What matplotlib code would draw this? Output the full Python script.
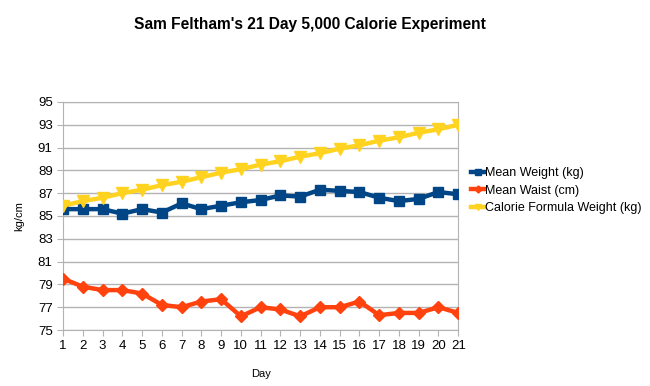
import matplotlib
matplotlib.use("Agg")
import matplotlib.pyplot as plt

# -----------------------------
# Data
# -----------------------------
days = list(range(1, 22))
mean_weight = [85.6, 85.6, 85.6, 85.2, 85.6, 85.3, 86.1, 85.6, 85.9, 86.2, 86.4,
               86.8, 86.7, 87.3, 87.2, 87.1, 86.6, 86.3, 86.5, 87.1, 86.9]
mean_waist = [79.5, 78.8, 78.5, 78.5, 78.2, 77.2, 77.0, 77.5, 77.7, 76.2, 77.0,
              76.8, 76.2, 77.0, 77.0, 77.5, 76.3, 76.5, 76.5, 77.0, 76.5]
formula_weight = [85.9, 86.3, 86.6, 87.0, 87.3, 87.7, 88.0, 88.4, 88.8, 89.1, 89.5,
                  89.8, 90.2, 90.5, 90.9, 91.2, 91.6, 91.9, 92.3, 92.6, 93.0]
y_ticks = list(range(75, 96, 2))

# -----------------------------
# Plot
# -----------------------------
plt.rcParams["font.family"] = ["Liberation Sans", "DejaVu Sans"]
fig = plt.figure(figsize=(6.5, 3.86), dpi=100)
ax = fig.add_axes([0.097, 0.145, 0.608, 0.591])

ax.plot(days, mean_weight, color="#004586", lw=3.2, marker="s", ms=7,
        label="Mean Weight (kg)", zorder=3)
ax.plot(days, mean_waist, color="#ff420e", lw=3.2, marker="D", ms=6,
        label="Mean Waist (cm)", zorder=3)
ax.plot(days, formula_weight, color="#ffd320", lw=3.2, marker="v", ms=8,
        label="Calorie Formula Weight (kg)", zorder=3)

ax.set_xlim(1, 21)
ax.set_ylim(75, 95)
ax.set_xticks(days)
ax.set_yticks(y_ticks)
ax.grid(axis="y", color="#b3b3b3", lw=1)
ax.set_axisbelow(True)
for s in ax.spines.values():
    s.set_color("#b3b3b3")
ax.tick_params(colors="#b3b3b3", labelcolor="black", labelsize=9.5, length=4, direction="out")

ax.set_xlabel("Day", fontsize=8, labelpad=12)
ax.set_ylabel("kg/cm", fontsize=8, labelpad=10)
fig.suptitle("Sam Feltham's 21 Day 5,000 Calorie Experiment", fontsize=11.2,
             fontweight="bold", x=0.477, y=0.955)

ax.legend(loc="center left", bbox_to_anchor=(1.005, 0.61), frameon=False,
          fontsize=9, handlelength=1.0, handletextpad=0.1, labelspacing=0.45,
          markerscale=0.6)

fig.savefig("out.png", dpi=100)
